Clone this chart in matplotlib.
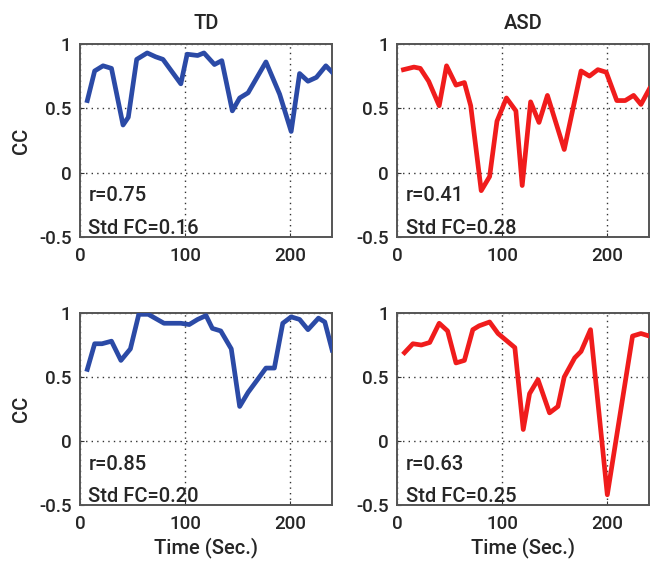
# CC time courses, TD vs ASD (two subjects each)

import numpy as np
import matplotlib.pyplot as plt

plt.rcParams['font.family'] = ['Roboto', 'DejaVu Sans']
plt.rcParams['font.weight'] = 'medium'
plt.rcParams['axes.titleweight'] = 'medium'
plt.rcParams['axes.labelweight'] = 'medium'

# top row
td1_t = [7, 14, 22, 30, 41, 46, 54, 64, 72, 79, 96, 102, 112, 118, 128, 135, 145, 152, 160, 177, 190, 201, 209, 217, 225, 234, 240]
td1_cc = [0.56, 0.79, 0.83, 0.81, 0.37, 0.43, 0.88, 0.93, 0.90, 0.88, 0.69, 0.92, 0.91, 0.93, 0.84, 0.87, 0.48, 0.58, 0.62, 0.86, 0.61, 0.32, 0.77, 0.71, 0.74, 0.83, 0.78]
asd1_t = [6, 16, 22, 30, 40, 47, 56, 64, 70, 80, 88, 95, 104, 113, 119, 127, 135, 143, 159, 175, 183, 191, 199, 209, 217, 225, 232, 240]
asd1_cc = [0.80, 0.82, 0.81, 0.71, 0.52, 0.83, 0.68, 0.70, 0.52, -0.14, -0.03, 0.40, 0.58, 0.48, -0.10, 0.55, 0.39, 0.60, 0.18, 0.79, 0.75, 0.80, 0.78, 0.56, 0.56, 0.60, 0.53, 0.65]

# bottom row
td2_t = [7, 14, 21, 30, 39, 48, 56, 65, 80, 96, 104, 112, 120, 126, 134, 144, 152, 160, 169, 177, 185, 193, 201, 209, 217, 227, 233, 240]
td2_cc = [0.56, 0.76, 0.76, 0.78, 0.63, 0.72, 0.99, 0.99, 0.92, 0.92, 0.91, 0.95, 0.98, 0.88, 0.86, 0.72, 0.27, 0.38, 0.48, 0.57, 0.57, 0.92, 0.97, 0.95, 0.87, 0.96, 0.93, 0.71]
asd2_t = [7, 15, 23, 31, 40, 48, 56, 64, 72, 78, 88, 96, 112, 120, 126, 134, 145, 153, 159, 169, 175, 184, 200, 224, 232, 240]
asd2_cc = [0.69, 0.76, 0.75, 0.77, 0.92, 0.86, 0.61, 0.63, 0.87, 0.90, 0.93, 0.84, 0.73, 0.09, 0.37, 0.48, 0.22, 0.27, 0.50, 0.65, 0.70, 0.87, -0.42, 0.82, 0.84, 0.82]

r_vals = ["0.75", "0.41", "0.85", "0.63"]
std_vals = ["0.16", "0.28", "0.20", "0.25"]
titles = ["TD", "ASD"]

blue = '#2b4aa6'
red = '#f01c1c'
txt = '#262626'

fig = plt.figure(figsize=(6.5, 5.63), dpi=100)
w = 0.388
positions = [
    [0.123, 0.579, w, 0.343],
    [0.611, 0.579, w, 0.343],
    [0.123, 0.103, w, 0.341],
    [0.611, 0.103, w, 0.341],
]
series = [(td1_t, td1_cc, blue), (asd1_t, asd1_cc, red),
          (td2_t, td2_cc, blue), (asd2_t, asd2_cc, red)]

for i, (pos, (t, cc, col)) in enumerate(zip(positions, series)):
    ax = fig.add_axes(pos)
    ax.plot(t, cc, color=col, lw=3.4, solid_joinstyle='round', zorder=3)
    ax.set_xlim(0, 240)
    ax.set_ylim(-0.5, 1)
    ax.set_xticks([0, 100, 200])
    ax.set_yticks([-0.5, 0, 0.5, 1])
    ax.set_yticklabels(['-0.5', '0', '0.5', '1'])
    ax.grid(True, color='#333333', linestyle=(0, (1, 3)), lw=1.0)
    ax.tick_params(direction='in', length=3, labelsize=13.5,
                   colors='#333333', labelcolor=txt)
    ax.tick_params(axis='x', pad=7)
    ax.tick_params(axis='y', pad=6)
    for s in ax.spines.values():
        s.set_color('#555555')
        s.set_linewidth(1.4)
    ax.text(8, -0.18, "r=" + r_vals[i], fontsize=14.5, color=txt, va='center')
    ax.text(8, -0.43, "Std FC=" + std_vals[i], fontsize=14.5, color=txt, va='center')
    if i < 2:
        ax.set_title(titles[i], fontsize=14.5, pad=11, color=txt)
    else:
        ax.set_xlabel("Time (Sec.)", fontsize=14.5, color=txt, labelpad=3)
    if i % 2 == 0:
        ax.set_ylabel("CC", fontsize=14.5, color=txt, labelpad=6)

fig.savefig("out.png", dpi=100)
